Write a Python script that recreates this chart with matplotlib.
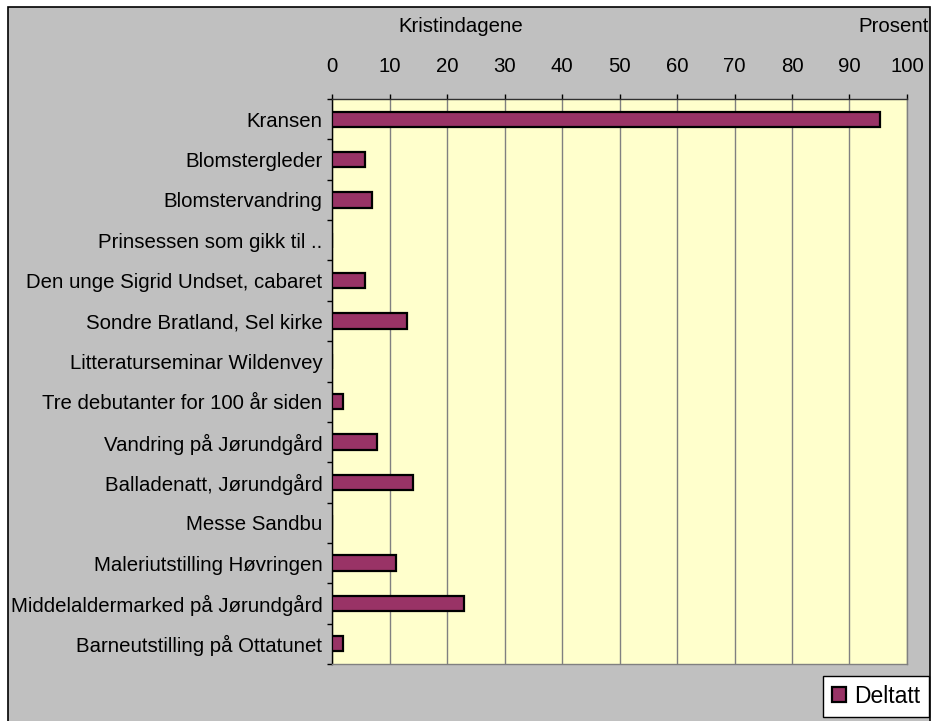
import numpy as np
import matplotlib
matplotlib.use("Agg")
import matplotlib.pyplot as plt
from matplotlib.patches import Rectangle

plt.rcParams['font.family'] = ['Liberation Sans', 'DejaVu Sans']

# data
categories = ["Kransen", "Blomstergleder", "Blomstervandring", "Prinsessen som gikk til ..",
              "Den unge Sigrid Undset, cabaret", "Sondre Bratland, Sel kirke",
              "Litteraturseminar Wildenvey", "Tre debutanter for 100 år siden",
              "Vandring på Jørundgård", "Balladenatt, Jørundgård", "Messe Sandbu",
              "Maleriutstilling Høvringen", "Middelaldermarked på Jørundgård",
              "Barneutstilling på Ottatunet"]
deltatt = [95.3, 5.8, 6.9, 0, 5.8, 13.1, 0, 1.9, 7.9, 14.1, 0, 11.1, 22.9, 1.9]
xticks = list(range(0, 101, 10))

FS = 14.7
W, H = 933, 721
fig = plt.figure(figsize=(W / 100, H / 100), dpi=100)
fig.patch.set_facecolor('white')

# grått bakgrunnsfelt med ramme
fig.patches.append(Rectangle((8 / W, -0.01), (930 - 8) / W, 1.01 - 7 / H,
                             transform=fig.transFigure, facecolor='#C0C0C0',
                             edgecolor='black', linewidth=1.2, zorder=-5))

l, r, t, b = 332, 907, 99, 664
ax = fig.add_axes([l / W, 1 - b / H, (r - l) / W, (b - t) / H])
ax.set_facecolor('#FFFFCC')

y = np.arange(len(categories))
ax.barh(y, deltatt, height=0.38, color='#993366', edgecolor='black',
        linewidth=1.6, zorder=3, label='Deltatt')

ax.set_xlim(0, 100)
ax.set_ylim(len(categories) - 0.5, -0.5)
ax.xaxis.tick_top()
ax.set_xticks(xticks)
ax.set_xticklabels([str(v) for v in xticks], fontsize=FS)
ax.tick_params(axis='x', direction='out', length=3.6, width=1, pad=13, color='black')
ax.grid(axis='x', color='#808080', linewidth=1, zorder=1)

ax.set_yticks(y)
ax.set_yticklabels(categories, fontsize=FS)
ax.set_yticks(np.arange(len(categories) + 1) - 0.5, minor=True)
ax.tick_params(axis='y', which='major', length=0, pad=7)
ax.tick_params(axis='y', which='minor', direction='out', length=3.6, width=1)

ax.spines['top'].set_color('#303030')
ax.spines['left'].set_color('black')
ax.spines['bottom'].set_color('#808080')
ax.spines['right'].set_color('#808080')
for s in ax.spines.values():
    s.set_linewidth(1)

fig.text(461 / W, 1 - 32 / H, "Kristindagene", ha='center', va='baseline', fontsize=FS)
fig.text(929 / W, 1 - 32 / H, "Prosent", ha='right', va='baseline', fontsize=FS)

leg = fig.legend(loc='lower right', bbox_to_anchor=(929 / W, 1 - 717 / H),
                 fontsize=16.5, frameon=True, fancybox=False, handlelength=0.6,
                 handleheight=0.6, handletextpad=0.35, borderpad=0.4,
                 borderaxespad=0)
leg.get_frame().set_edgecolor('black')
leg.get_frame().set_facecolor('white')
leg.get_frame().set_linewidth(1)
leg.get_frame().set_alpha(1)

fig.savefig("out.png", dpi=100, facecolor=fig.get_facecolor())
